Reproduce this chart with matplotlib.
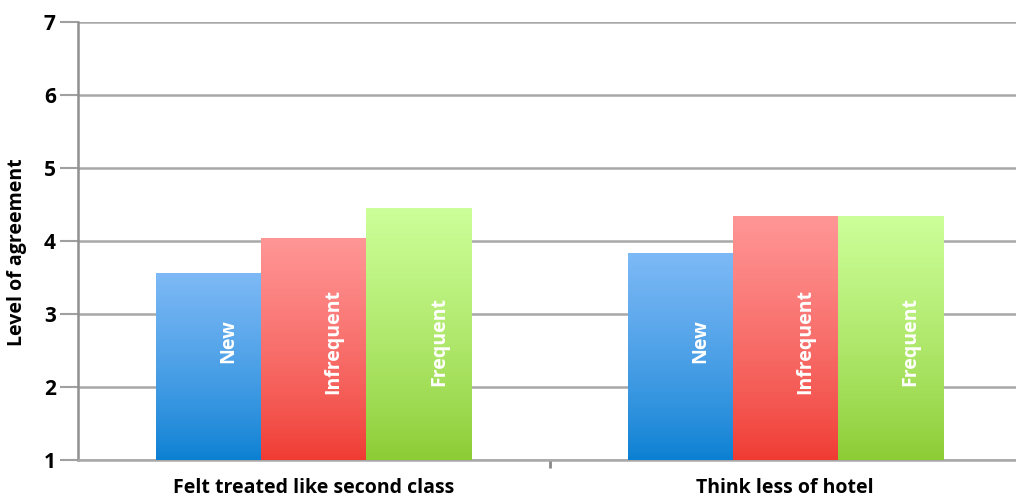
import numpy as np
import matplotlib
matplotlib.use('Agg')
import matplotlib.pyplot as plt
from matplotlib.colors import LinearSegmentedColormap

plt.rcParams['font.family'] = ['Open Sans', 'DejaVu Sans']

# Data
categories = ['Felt treated like second class', 'Think less of hotel']
groups = ['New', 'Infrequent', 'Frequent']
new_vals = [3.56, 3.83]
infrequent_vals = [4.04, 4.34]
frequent_vals = [4.44, 4.33]
yticks = [1, 2, 3, 4, 5, 6, 7]

# gradient colours (top, bottom)
grad_colors = {
    'New': ('#7db9f6', '#0a7fd2'),
    'Infrequent': ('#ff9696', '#ef3a31'),
    'Frequent': ('#ccff99', '#8bcb33'),
}

fig = plt.figure(figsize=(10.16, 4.98), dpi=100)
ax = fig.add_axes([78 / 1016, 38 / 498, (1021 - 78) / 1016, (460 - 22) / 498])

x = np.arange(len(categories))
width = 0.223
series = [new_vals, infrequent_vals, frequent_vals]

grad = np.linspace(1, 0, 256) ** 0.8
grad = grad.reshape(-1, 1)
for i, (name, vals) in enumerate(zip(groups, series)):
    bars = ax.bar(x + (i - 1) * width, np.array(vals) - 1, width, bottom=1,
                  color=grad_colors[name][1], zorder=2, linewidth=0)
    cmap = LinearSegmentedColormap.from_list(name, [grad_colors[name][1], grad_colors[name][0]])
    for bar in bars:
        x0 = bar.get_x()
        x1 = x0 + bar.get_width()
        top = bar.get_y() + bar.get_height()
        ax.imshow(grad, extent=[x0, x1, 1, top], aspect='auto', cmap=cmap,
                  zorder=3, interpolation='bicubic')
        ax.text(x0 + bar.get_width() * 0.69, 2.63, name, rotation=90,
                ha='center', va='center', color='white', fontsize=14,
                fontweight='bold', zorder=4)

ax.set_xlim(-0.5, 1.5)
ax.set_ylim(1, 7)
ax.set_yticks(yticks)
ax.set_xticks(x)
ax.set_xticklabels(categories, fontsize=14, fontweight='bold')
ax.set_xticks([0.5], minor=True)
ax.tick_params(axis='x', which='major', length=0, pad=13)
ax.tick_params(axis='x', which='minor', length=6, width=2, color='#888888', direction='out')
ax.tick_params(axis='y', length=13, width=1.5, color='#a0a0a0', pad=3, labelsize=15)
for lbl in ax.get_yticklabels():
    lbl.set_fontweight('bold')

ax.grid(axis='y', color='#a8a8a8', linewidth=1.8, zorder=1)
ax.set_axisbelow(True)
for side in ['top', 'right']:
    ax.spines[side].set_visible(False)
ax.spines['left'].set_color('#909090')
ax.spines['left'].set_linewidth(1.8)
ax.spines['left'].set_bounds(1, 7)
ax.spines['bottom'].set_color('#a8a8a8')
ax.spines['bottom'].set_linewidth(1.8)

ax.set_ylabel('Level of agreement', fontsize=14, fontweight='bold')
ax.yaxis.set_label_coords(-0.054, 0.475)

fig.savefig('out.png', dpi=100)
